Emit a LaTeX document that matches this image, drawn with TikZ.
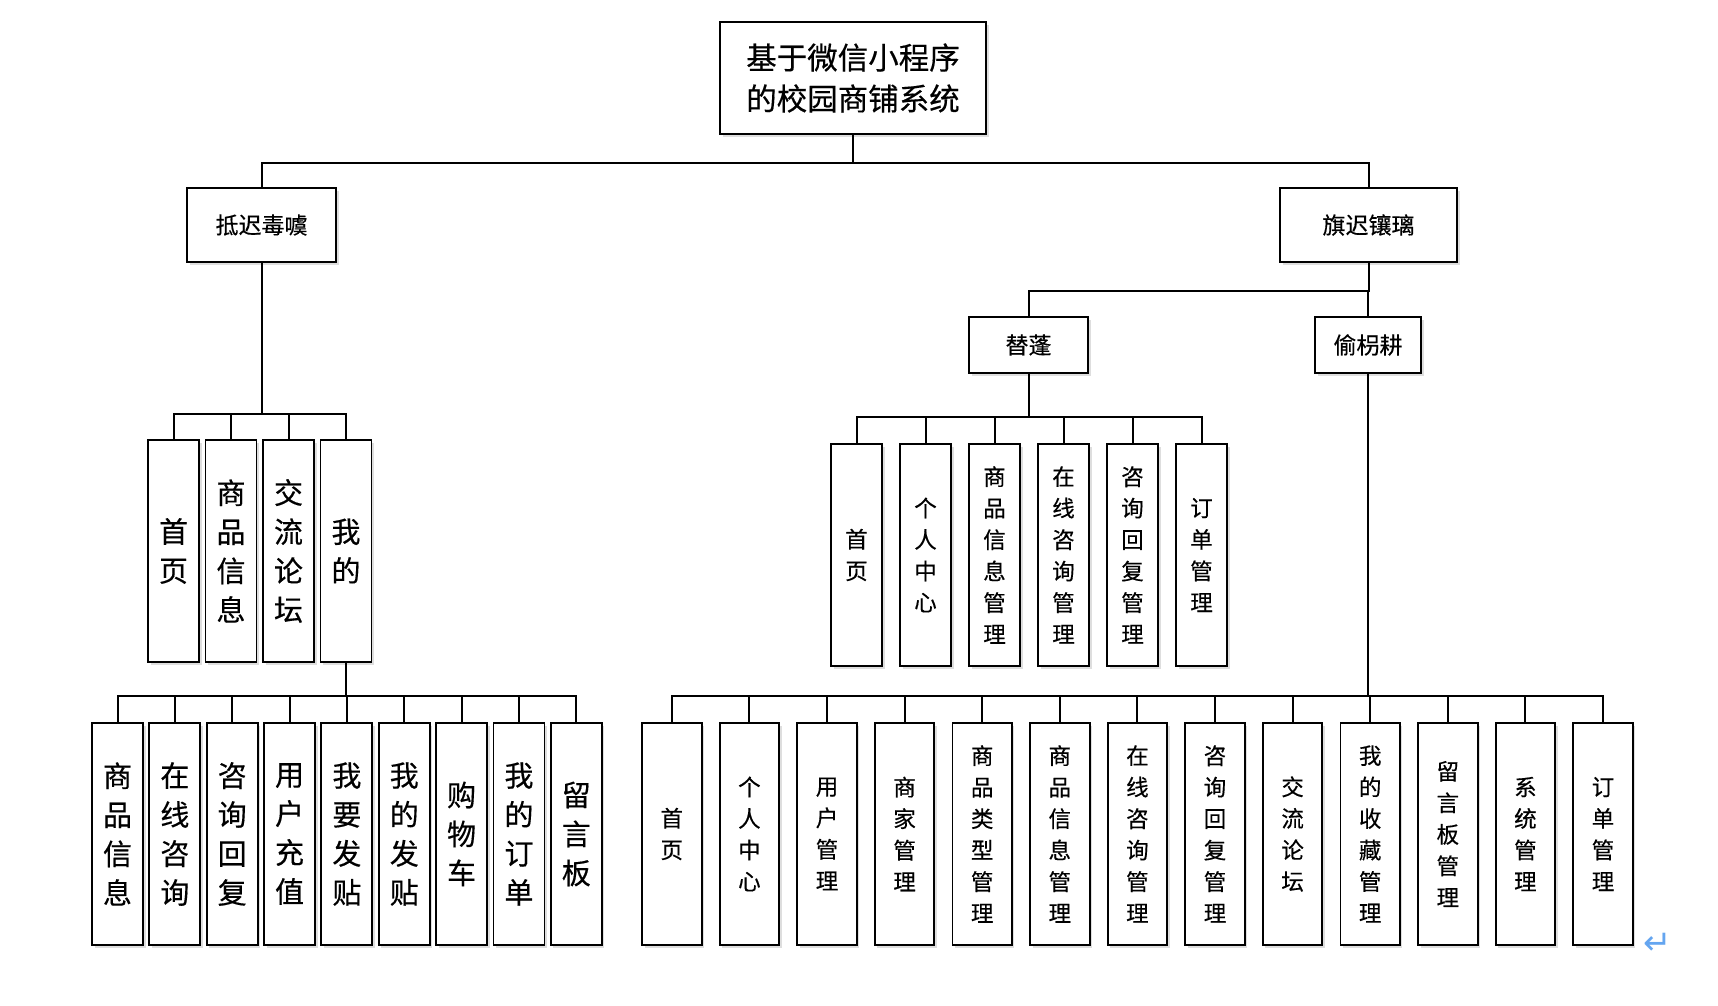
\documentclass[tikz,border=0pt]{standalone}
\usepackage{fontspec}
\newfontfamily\cjk[FakeBold=0.4]{Noto Sans CJK SC}
\newfontfamily\dejavu{DejaVu Sans}
\usetikzlibrary{shadows}
\definecolor{retblue}{RGB}{100,165,240}
\tikzset{
  box/.style={draw, line width=1.9pt, fill=white, inner sep=0pt,
    drop shadow={shadow xshift=2.5pt, shadow yshift=-3pt, fill=black, opacity=0.13}},
  toptitle/.style={box, minimum width=266pt, minimum height=112pt, align=center,
    font={\cjk\fontsize{30.5}{41}\selectfont}},
  hbox/.style={box, minimum height=74pt, font={\cjk\fontsize{23}{28}\selectfont}},
  sbox/.style={box, minimum height=56pt, font={\cjk\fontsize{23}{28}\selectfont}},
  vbig/.style={box, minimum width=51pt, minimum height=222pt, align=center,
    font={\cjk\fontsize{29}{39}\selectfont}},
  vsmall/.style={box, minimum width=51pt, minimum height=222pt, align=center,
    font={\cjk\fontsize{22.5}{31.5}\selectfont}},
  conn/.style={line width=2pt}
}
\begin{document}
\begin{tikzpicture}[x=1pt,y=-1pt]
\useasboundingbox (0,0) rectangle (1718,1006);
\fill[white] (0,0) rectangle (1718,1006);

\node[toptitle] (root) at (853,78) {基于微信小程序\\的校园商铺系统};
\node[hbox, minimum width=149pt] (front) at (261.5,225) {抵迟毒噳};
\node[hbox, minimum width=177pt] (back) at (1368.5,225) {旗迟镶璃};
\node[sbox, minimum width=119pt] (shop) at (1028.5,345) {替蓬};
\node[sbox, minimum width=106pt] (admin) at (1368,345) {偷枴耕};

\foreach \t [count=\i] in {{首\\页},{商\\品\\信\\息},{交\\流\\论\\坛},{我\\的}}
  \node[vbig] (la\i) at ({173.5+57.5*(\i-1)},551) {\t};

\foreach \t [count=\i] in {{首\\页},{个\\人\\中\\心},{商\\品\\信\\息\\管\\理},{在\\线\\咨\\询\\管\\理},{咨\\询\\回\\复\\管\\理},{订\\单\\管\\理}}
  \node[vsmall] (m\i) at ({856.5+69*(\i-1)},555) {\t};

\foreach \t [count=\i] in {{商\\品\\信\\息},{在\\线\\咨\\询},{咨\\询\\回\\复},{用\\户\\充\\值},{我\\要\\发\\贴},{我\\的\\发\\贴},{购\\物\\车},{我\\的\\订\\单},{留\\言\\板}}
  \node[vbig] (bl\i) at ({117.5+57.35*(\i-1)},834) {\t};

\foreach \t [count=\i] in {{首\\页},{个\\人\\中\\心},{用\\户\\管\\理},{商\\家\\管\\理},{商\\品\\类\\型\\管\\理},{商\\品\\信\\息\\管\\理},{在\\线\\咨\\询\\管\\理},{咨\\询\\回\\复\\管\\理},{交\\流\\论\\坛},{我\\的\\收\\藏\\管\\理},{留\\言\\板\\管\\理},{系\\统\\管\\理},{订\\单\\管\\理}}
  \node[vsmall, minimum width=59.5pt] (br\i) at ({671.8+77.6*(\i-1)},834) {\t};

\node[text=retblue, font={\dejavu\fontsize{34}{34}\selectfont}, inner sep=0pt] (ret) at (1658,944) {↵};

\draw[conn] (root.south) -- ++(0,28) -| (front.north);
\draw[conn] (root.south) -- ++(0,28) -| (back.north);
\draw[conn] (back.south) -- ++(0,28) -| (shop.north);
\draw[conn] (back.south) -- ++(0,28) -| (admin.north);
\foreach \i in {1,...,4} \draw[conn] (front.south) -- ++(0,151) -| (la\i.north);
\foreach \i in {1,...,6} \draw[conn] (shop.south) -- ++(0,43) -| (m\i.north);
\foreach \i in {1,...,9} \draw[conn] (la4.south) -- ++(0,33) -| (bl\i.north);
\foreach \i in {1,...,13} \draw[conn] (admin.south) -- ++(0,322) -| (br\i.north);
\end{tikzpicture}
\end{document}
